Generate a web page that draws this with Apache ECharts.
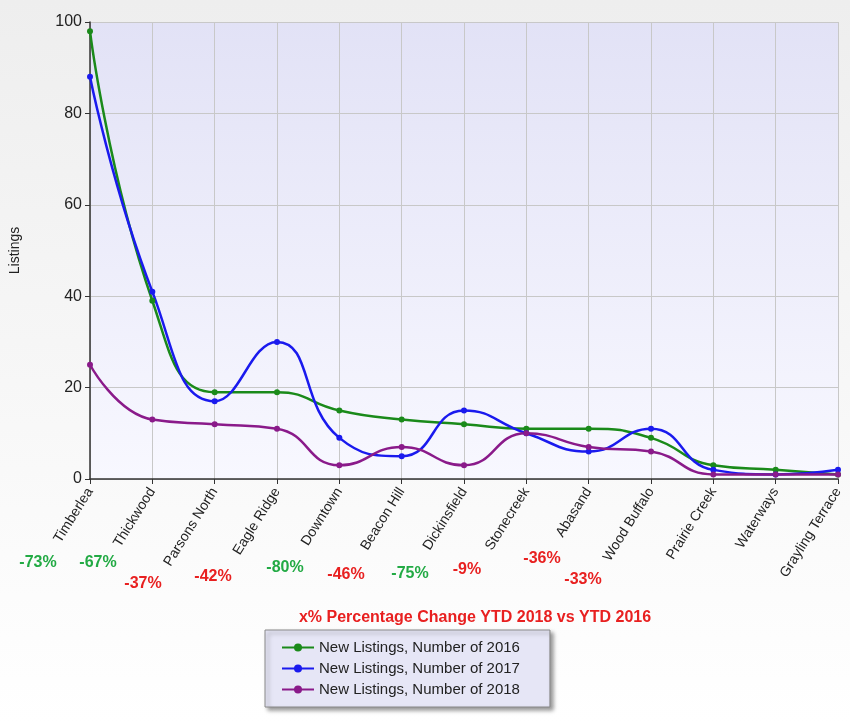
<!DOCTYPE html>
<html><head><meta charset="utf-8">
<script src="https://cdn.jsdelivr.net/npm/echarts@6/dist/echarts.min.js"></script>
<style>html,body{margin:0;padding:0;background:linear-gradient(#eeeeee,#ffffff);}#c{width:850px;height:724px;}</style>
</head><body><div id="c"></div>
<script>
const categories = ["Timberlea","Thickwood","Parsons North","Eagle Ridge","Downtown","Beacon Hill","Dickinsfield","Stonecreek","Abasand","Wood Buffalo","Prairie Creek","Waterways","Grayling Terrace"];
const listings2016 = [98,39,19,19,15,13,12,11,11,9,3,2,1];
const listings2017 = [88,41,17,30,9,5,15,10,6,11,2,1,2];
const listings2018 = [25,13,12,11,3,7,3,10,7,6,1,1,1];
const pctLabels = ["-73%","-67%","-37%","-42%","-80%","-46%","-75%","-9%","-36%","-33%"];
const pctColors = ["#22aa44","#22aa44","#e82020","#e82020","#22aa44","#e82020","#22aa44","#e82020","#e82020","#e82020"];
const pctPos = [[38,563],[98,563],[143,584],[213,577],[285,568],[346,575],[410,574],[467,570],[542,559],[583,580]];
const yTicks = [0,20,40,60,80,100];

const chart = echarts.init(document.getElementById('c'));
function mk(name,data,color){return {name,type:'line',data,smooth:0.5,symbol:'circle',symbolSize:6,
  lineStyle:{color,width:2.5},itemStyle:{color},emphasis:{disabled:true}};}
const graphics = pctLabels.map((t,i)=>({type:'text',x:pctPos[i][0],y:pctPos[i][1],
  style:{text:t,fill:pctColors[i],font:'bold 16px "Liberation Sans", Arial',align:'center',verticalAlign:'middle'}}));
graphics.push({type:'text',x:475,y:618,style:{text:'x% Percentage Change YTD 2018 vs YTD 2016',fill:'#e82020',
  font:'bold 16px "Liberation Sans", Arial',align:'center',verticalAlign:'middle'}});
chart.setOption({
  animation:false,
  grid:{left:86,right:12,top:22,bottom:245,show:true,borderWidth:0,
    backgroundColor:new echarts.graphic.LinearGradient(0,0,0,1,[{offset:0,color:'#e2e2f6'},{offset:1,color:'#f8f8ff'}])},
  xAxis:{type:'category',data:categories,boundaryGap:false,
    axisLine:{lineStyle:{color:'#333',width:1.5}},axisTick:{show:true,alignWithLabel:true,length:5,lineStyle:{color:'#333'}},
    splitLine:{show:true,lineStyle:{color:'#c8c8c8'}},
    axisLabel:{rotate:58,interval:0,color:'#222',fontFamily:'"Liberation Sans", Arial',fontSize:14,margin:10}},
  yAxis:{type:'value',min:yTicks[0],max:yTicks[yTicks.length-1],interval:20,name:'Listings',nameLocation:'middle',nameGap:68,
    nameTextStyle:{color:'#222',fontSize:14,fontFamily:'"Liberation Sans", Arial'},
    axisLine:{show:true,lineStyle:{color:'#333',width:1.5}},axisTick:{show:true,length:5},
    splitLine:{lineStyle:{color:'#c8c8c8'}},
    axisLabel:{color:'#222',fontSize:16,fontFamily:'"Liberation Sans", Arial'}},
  legend:{orient:'vertical',left:265,top:630,padding:[10,30,10,16],itemGap:6,itemWidth:32,itemHeight:10,
    backgroundColor:'#e6e6f6',borderColor:'#888',borderWidth:1,shadowColor:'rgba(0,0,0,0.4)',shadowBlur:4,shadowOffsetX:3,shadowOffsetY:3,
    textStyle:{color:'#222',fontSize:15,fontFamily:'"Liberation Sans", Arial'}},
  graphic:graphics,
  series:[mk('New Listings, Number of 2016',listings2016,'#1a8a1a'),
          mk('New Listings, Number of 2017',listings2017,'#1a1aee'),
          mk('New Listings, Number of 2018',listings2018,'#8a1a8a')]
});
</script></body></html>
